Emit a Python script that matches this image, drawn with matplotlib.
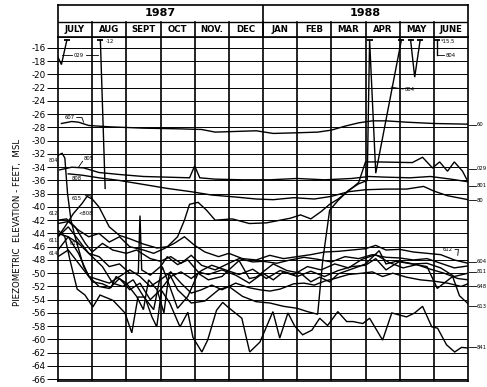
import matplotlib
matplotlib.use('Agg')
import matplotlib.pyplot as plt

# ----------------------------------------------------------------------
# Axis / header text
# ----------------------------------------------------------------------
MONTHS = ['JULY', 'AUG', 'SEPT', 'OCT', 'NOV.', 'DEC',
          'JAN', 'FEB', 'MAR', 'APR', 'MAY', 'JUNE']
YEARS = ['1987', '1988']
YTICKS = list(range(-16, -67, -2))

# ----------------------------------------------------------------------
# Hydrographs: time in months since 1 July 1987, elevation in ft MSL
# ----------------------------------------------------------------------
w607_m = [0.1, 0.4, 0.6, 0.9, 1.5, 2.5, 3.5, 4.2, 4.6, 5.2, 5.8, 6.3, 7.0,
          7.6, 8.0, 8.4, 8.8, 9.2, 9.6, 10.2, 11.0, 12.0]
w607_v = [-27.4, -27.1, -27.2, -27.7, -27.9, -28.1, -28.2, -28.3, -28.7, -28.6,
          -28.5, -28.9, -28.8, -28.7, -28.4, -27.8, -27.3, -27.0, -27.0, -27.2,
          -27.4, -27.5]

w805_m = [0.05, 0.4, 0.75, 1.2, 1.8, 2.5, 3.2, 3.85, 4.0, 4.15, 4.6, 5.4, 6.2,
          7.0, 7.8, 8.6, 9.1, 9.6, 10.3, 10.9, 11.5, 12.0]
w805_v = [-34.4, -34.0, -34.1, -34.8, -35.1, -35.4, -35.5, -35.6, -33.8, -35.6,
          -35.8, -35.9, -35.9, -35.7, -35.9, -35.7, -35.4, -35.5, -35.6, -35.4,
          -35.8, -36.2]

w808_m = [0.3, 0.7, 1.2, 1.8, 2.5, 3.2, 3.9, 4.5, 5.2, 5.8, 6.3, 6.9, 7.5, 8.0,
          8.5, 9.0, 9.6, 10.2, 10.7, 11.0, 11.4, 11.8, 12.0]
w808_v = [-35.0, -35.2, -35.6, -36.0, -36.6, -37.2, -37.7, -38.2, -38.5, -38.8,
          -38.9, -38.6, -38.8, -38.4, -37.7, -37.4, -37.3, -37.3, -36.9, -37.6,
          -38.3, -38.7, -38.9]

w029_jul_m = [0.0, 0.1, 0.26]
w029_jul_v = [-17.4, -18.5, -14.8]

w12_m = [1.24, 1.38]
w12_v = [-14.8, -37.2]

w615_m = [0.0, 0.2, 0.45, 0.7, 0.85, 1.0, 1.2, 1.5, 1.8, 2.1, 2.5, 2.9, 3.2,
          3.5, 3.7, 3.85, 4.1, 4.35, 4.6, 5.1, 5.6, 6.1, 6.5, 6.8, 7.1, 7.4,
          7.7, 7.95, 8.2, 8.5, 8.8, 9.0, 9.33, 10.37, 10.67, 10.96, 11.17,
          11.4, 11.6, 11.84, 11.96]
w615_v = [-44.5, -43.0, -41.0, -39.5, -38.4, -38.8, -40.0, -43.0, -44.3, -44.8,
          -45.6, -46.2, -46.0, -44.5, -42.0, -39.6, -39.3, -40.5, -42.0, -41.8,
          -42.5, -42.4, -42.0, -41.7, -41.2, -41.8, -40.7, -39.6, -38.8, -37.6,
          -36.3, -33.2, -33.2, -33.3, -32.5, -34.1, -33.2, -34.6, -33.2, -34.6,
          -35.8]

w804_m = [0.0, 0.12, 0.2, 0.28, 0.38, 0.5, 0.75, 1.0, 1.3, 1.55, 1.7, 2.0, 2.3,
          2.5, 2.65, 2.9, 3.1, 3.25, 3.5, 3.9, 4.3, 4.7, 5.0, 5.4, 5.8, 6.2,
          6.6, 7.0, 7.3, 7.6, 7.75, 7.95, 8.2, 8.5, 8.8, 9.05, 9.12, 9.3, 10.05]
w804_v = [-32.2, -31.9, -32.6, -38.0, -42.0, -44.5, -49.0, -51.3, -51.6, -52.2,
          -50.5, -51.5, -53.5, -55.5, -51.0, -52.5, -56.0, -50.0, -52.5, -54.5,
          -54.2, -52.5, -52.0, -53.5, -54.3, -54.5, -55.0, -55.3, -55.8, -56.2,
          -48.0, -40.5, -39.0, -37.5, -36.5, -36.0, -14.8, -34.9, -14.8]

w804_may_m = [10.32, 10.44, 10.6]
w804_may_v = [-14.8, -20.4, -14.8]

w804_jun_m = [11.1, 11.1]
w804_jun_v = [-14.8, -17.0]

w841_m = [0.0, 0.2, 0.35, 0.56, 0.79, 1.02, 1.23, 1.61, 1.96, 2.16, 2.34, 2.54,
          2.75, 2.89, 3.03, 3.27, 3.57, 3.8, 3.95, 4.21, 4.38, 4.64, 4.82, 4.97,
          5.38, 5.61, 5.91, 6.29, 6.49, 6.73, 6.93, 7.16, 7.43, 7.66, 7.89,
          8.19, 8.45, 8.63, 8.92, 9.12, 9.5, 9.77, 10.2, 10.44, 10.67, 10.94,
          11.11, 11.37, 11.61, 11.81, 12.0]
w841_v = [-43.5, -44.5, -48.0, -52.4, -53.3, -55.1, -53.3, -54.1, -56.0, -59.0,
          -53.6, -53.6, -56.6, -58.1, -52.6, -54.5, -58.1, -55.9, -59.7, -61.9,
          -60.1, -55.6, -54.4, -55.1, -56.8, -61.9, -60.4, -55.8, -59.8, -56.0,
          -58.0, -59.3, -58.6, -56.8, -57.9, -55.8, -57.3, -57.3, -57.6, -56.8,
          -60.1, -56.0, -56.6, -56.0, -55.0, -58.1, -58.3, -60.8, -61.9, -61.2,
          -61.3]

w606_m = [0.0, 0.3, 0.6, 0.9, 1.2, 1.5, 1.8, 2.1, 2.5, 2.8, 3.1, 3.4, 3.7, 4.0,
          4.3, 4.7, 5.0, 5.4, 5.8, 6.2, 6.6, 7.0, 7.4, 7.8, 8.2, 8.6, 9.0, 9.3,
          9.6, 10.0, 10.4, 10.8, 11.2, 11.6, 12.0]
w606_v = [-42.5, -42.2, -43.5, -44.5, -44.0, -45.3, -44.5, -46.0, -46.5, -47.0,
          -46.3, -45.5, -44.5, -45.8, -46.8, -47.5, -47.0, -47.8, -48.0, -47.3,
          -47.8, -47.5, -47.2, -46.8, -46.7, -46.5, -46.3, -45.8, -46.5, -46.4,
          -46.8, -47.0, -47.2, -48.0, -48.5]

w612_m = [0.0, 0.25, 0.5, 0.8, 1.0, 1.3, 1.6, 2.0, 2.3, 2.7, 3.0, 3.3, 3.6, 3.9,
          4.2, 4.6, 5.0, 5.3, 5.7, 6.0, 6.4, 6.8, 7.2, 7.6, 8.0, 8.4, 8.8, 9.2,
          9.6, 10.0, 10.4, 10.8, 11.2, 11.6, 12.0]
w612_v = [-42.0, -41.8, -43.0, -45.5, -46.8, -45.5, -46.5, -47.0, -46.5, -47.8,
          -48.2, -47.5, -48.5, -47.3, -48.8, -49.5, -48.5, -47.8, -48.3, -48.2,
          -48.5, -48.0, -47.6, -47.9, -48.3, -47.5, -47.8, -47.2, -47.6, -47.7,
          -48.0, -47.8, -48.5, -49.2, -48.9]

w811_m = [0.0, 0.3, 0.6, 0.9, 1.2, 1.5, 1.8, 2.1, 2.35, 2.4, 2.45, 2.7, 3.0,
          3.2, 3.5, 3.8, 4.1, 4.4, 4.8, 5.2, 5.6, 6.0, 6.3, 6.6, 7.0, 7.4, 7.8,
          8.2, 8.6, 9.0, 9.3, 9.6, 10.0, 10.4, 10.8, 11.2, 11.6, 12.0]
w811_v = [-44.5, -43.0, -45.0, -47.0, -47.5, -49.0, -48.6, -50.0, -50.0, -41.3,
          -49.5, -50.3, -49.0, -47.5, -48.7, -48.0, -49.8, -50.2, -49.5, -50.3,
          -51.5, -50.0, -51.0, -49.8, -50.5, -49.7, -50.5, -49.6, -49.0, -48.8,
          -47.8, -49.5, -48.2, -48.6, -48.5, -49.2, -50.5, -50.0]

w648_m = [0.0, 0.3, 0.6, 0.9, 1.2, 1.5, 1.8, 2.1, 2.4, 2.7, 3.0, 3.3, 3.6, 3.9,
          4.2, 4.5, 4.8, 5.2, 5.6, 5.9, 6.2, 6.5, 6.9, 7.2, 7.5, 7.8, 8.1, 8.5,
          8.9, 9.2, 9.5, 9.8, 10.2, 10.6, 11.0, 11.4, 11.8, 12.0]
w648_v = [-46.5, -44.5, -47.0, -50.5, -51.0, -51.5, -50.5, -49.5, -50.5, -52.0,
          -51.0, -49.8, -51.5, -53.0, -52.5, -51.8, -52.5, -51.5, -52.2, -52.5,
          -52.7, -52.4, -51.6, -51.5, -51.8, -51.2, -50.8, -50.2, -50.0, -49.8,
          -50.5, -50.0, -50.6, -51.0, -51.2, -51.5, -52.0, -51.6]

w613_m = [0.0, 0.3, 0.6, 1.0, 1.3, 1.6, 1.9, 2.2, 2.5, 2.8, 3.05, 3.2, 3.5, 3.8,
          4.1, 4.4, 4.8, 5.0, 5.3, 5.6, 5.8, 6.3, 6.7, 7.1, 7.4, 7.66, 7.95,
          8.2, 8.8, 9.0, 9.4, 9.6, 9.9, 10.8, 11.1, 11.55, 11.75, 12.0]
w613_v = [-44.0, -44.5, -45.5, -47.5, -49.0, -51.5, -52.0, -51.0, -53.5, -55.5,
          -49.0, -51.0, -55.3, -53.5, -50.0, -51.0, -50.5, -49.5, -48.1, -50.8,
          -50.6, -48.6, -49.6, -50.0, -51.3, -50.6, -51.3, -50.1, -49.0, -48.6,
          -46.6, -48.6, -48.2, -49.0, -52.3, -50.5, -53.4, -54.6]

w614_m = [0.0, 0.3, 0.6, 0.9, 1.2, 1.5, 1.8, 2.1, 2.4, 2.7, 3.0, 3.3, 3.6, 3.9,
          4.2, 4.5, 4.9, 5.3, 5.7, 6.1, 6.5, 6.9, 7.3, 7.7, 8.1, 8.5, 8.9, 9.3,
          9.7, 10.1, 10.5, 10.9, 11.3, 11.7, 12.0]
w614_v = [-47.5, -46.5, -48.5, -50.5, -52.0, -52.3, -50.8, -52.5, -51.5, -54.0,
          -52.5, -50.5, -49.8, -50.8, -49.6, -48.8, -49.5, -50.2, -49.4, -50.8,
          -49.6, -50.2, -49.0, -49.5, -48.6, -49.2, -47.9, -47.2, -48.4, -49.2,
          -48.7, -49.4, -50.0, -50.8, -51.0]

# off-scale readings (top of the spikes)
caps_m = [0.26, 1.24, 9.12, 10.05, 10.32, 10.6, 11.1]
caps_v = [-14.8, -14.8, -14.8, -14.8, -14.8, -14.8, -14.8]

series = [
    (w607_m, w607_v), (w805_m, w805_v), (w808_m, w808_v),
    (w029_jul_m, w029_jul_v), (w12_m, w12_v), (w615_m, w615_v),
    (w804_m, w804_v), (w804_may_m, w804_may_v), (w804_jun_m, w804_jun_v),
    (w841_m, w841_v), (w606_m, w606_v), (w612_m, w612_v),
    (w811_m, w811_v), (w648_m, w648_v), (w613_m, w613_v), (w614_m, w614_v),
]

# ----------------------------------------------------------------------
# Figure
# ----------------------------------------------------------------------
plt.rcParams['font.family'] = ['DejaVu Sans']
W, H = 487, 387
fig = plt.figure(figsize=(W / 100, H / 100), dpi=100)
fig.patch.set_facecolor('white')

left, right = 58 / W, 468 / W
top, bottom = 1 - 37 / H, 1 - 380.5 / H
ax = fig.add_axes([left, bottom, right - left, top - bottom])
ax.set_xlim(0, 12)
ax.set_ylim(-66.2, -14.34)

for yv in YTICKS:
    ax.axhline(yv, color='black', lw=0.7, zorder=1)
for m in range(1, 12):
    ax.axvline(m, color='black', lw=1.2, zorder=1)
for s in ax.spines.values():
    s.set_linewidth(1.2)

for mm, vv in series:
    ax.plot(mm, vv, color='black', lw=1.0, zorder=3, solid_joinstyle='miter')
ax.plot(caps_m, caps_v, ls='none', marker='_', ms=5, mew=1.3, color='black',
        zorder=4)

ax.set_xticks([])
ax.set_yticks(YTICKS)
ax.set_yticklabels([f'-{abs(t)}' for t in YTICKS], fontsize=6.3)
ax.tick_params(axis='y', length=8, width=0.7, pad=1)

# well labels inside the plot
lab = dict(fontsize=3.8, color='black', zorder=5)
ax.text(0.2, -26.7, '607', **lab)
ax.plot([0.55, 0.7, 0.75], [-26.5, -26.5, -27.2], color='black', lw=0.6)
ax.text(0.45, -17.3, '029', **lab)
ax.plot([0.12, 0.42], [-17.0, -17.0], color='black', lw=0.6)
ax.plot([0.82, 1.18], [-17.0, -17.0], color='black', lw=0.6)
ax.text(1.38, -15.2, '·12', **lab)
ax.text(0.75, -32.9, '805', **lab)
ax.plot([0.6, 0.72], [-34.0, -33.1], color='black', lw=0.6)
ax.text(0.4, -36.0, '808', **lab)
ax.text(0.4, -38.9, '615', **lab)
ax.plot([0.8, 0.95, 1.0], [-38.3, -38.3, -38.8], color='black', lw=0.6)
ax.text(0.6, -41.2, '<808', **lab)
ax.text(0.35, -45.8, '613', **lab)
ax.text(10.15, -22.5, '804', **lab)
ax.plot([9.75, 10.1], [-21.9, -22.2], color='black', lw=0.6)
ax.text(11.2, -15.3, '*15.5', **lab)
ax.text(11.35, -17.3, '804', **lab)
ax.plot([11.1, 11.3], [-17.0, -17.0], color='black', lw=0.6)
ax.text(11.25, -46.6, '612', **lab)
ax.plot([11.62, 11.72, 11.7], [-46.4, -46.4, -47.3], color='black', lw=0.6)

# labels just left of the frame, between tick labels and axis
for txt, yv in [('804', -33.0), ('612', -41.0), ('611', -45.0), ('614', -47.0)]:
    ax.text(-0.27, yv, txt, va='center', clip_on=False, fontsize=3.5, zorder=5)

# labels right of the plot
for txt, yv in [('60', -27.6), ('029', -34.2), ('801', -36.8), ('80', -39.0),
                ('604', -48.3), ('811', -49.8), ('648', -52.0), ('613', -55.0),
                ('841', -61.2)]:
    ax.plot([12.02, 12.22], [yv, yv], color='black', lw=0.6, clip_on=False)
    ax.text(12.25, yv, txt, va='center', clip_on=False, **lab)

fig.text(18 / W, 1 - 222 / H, 'PIEZOMETRIC  ELEVATION - FEET,  MSL',
         rotation=90, ha='center', va='center', fontsize=6.2)

# ----------------------------------------------------------------------
# Header with years and months
# ----------------------------------------------------------------------
hx = fig.add_axes([left, top, right - left, (37 - 5) / H])
hx.set_xlim(0, 12)
hx.set_ylim(0, 32)
hx.set_xticks([])
hx.set_yticks([])
for s in hx.spines.values():
    s.set_linewidth(1.2)
hx.axhline(15, color='black', lw=1.0)
for m in range(1, 12):
    hx.plot([m, m], [0, 15], color='black', lw=1.2)
hx.plot([6, 6], [0, 32], color='black', lw=1.2)
for i, name in enumerate(MONTHS):
    hx.text(i + 0.5, 7.5, name, ha='center', va='center', fontsize=6.2,
            fontweight='bold')
for i, yr in enumerate(YEARS):
    hx.text(3 + 6 * i, 23.5, yr, ha='center', va='center', fontsize=8,
            fontweight='bold')

plt.savefig('out.png', dpi=100)
